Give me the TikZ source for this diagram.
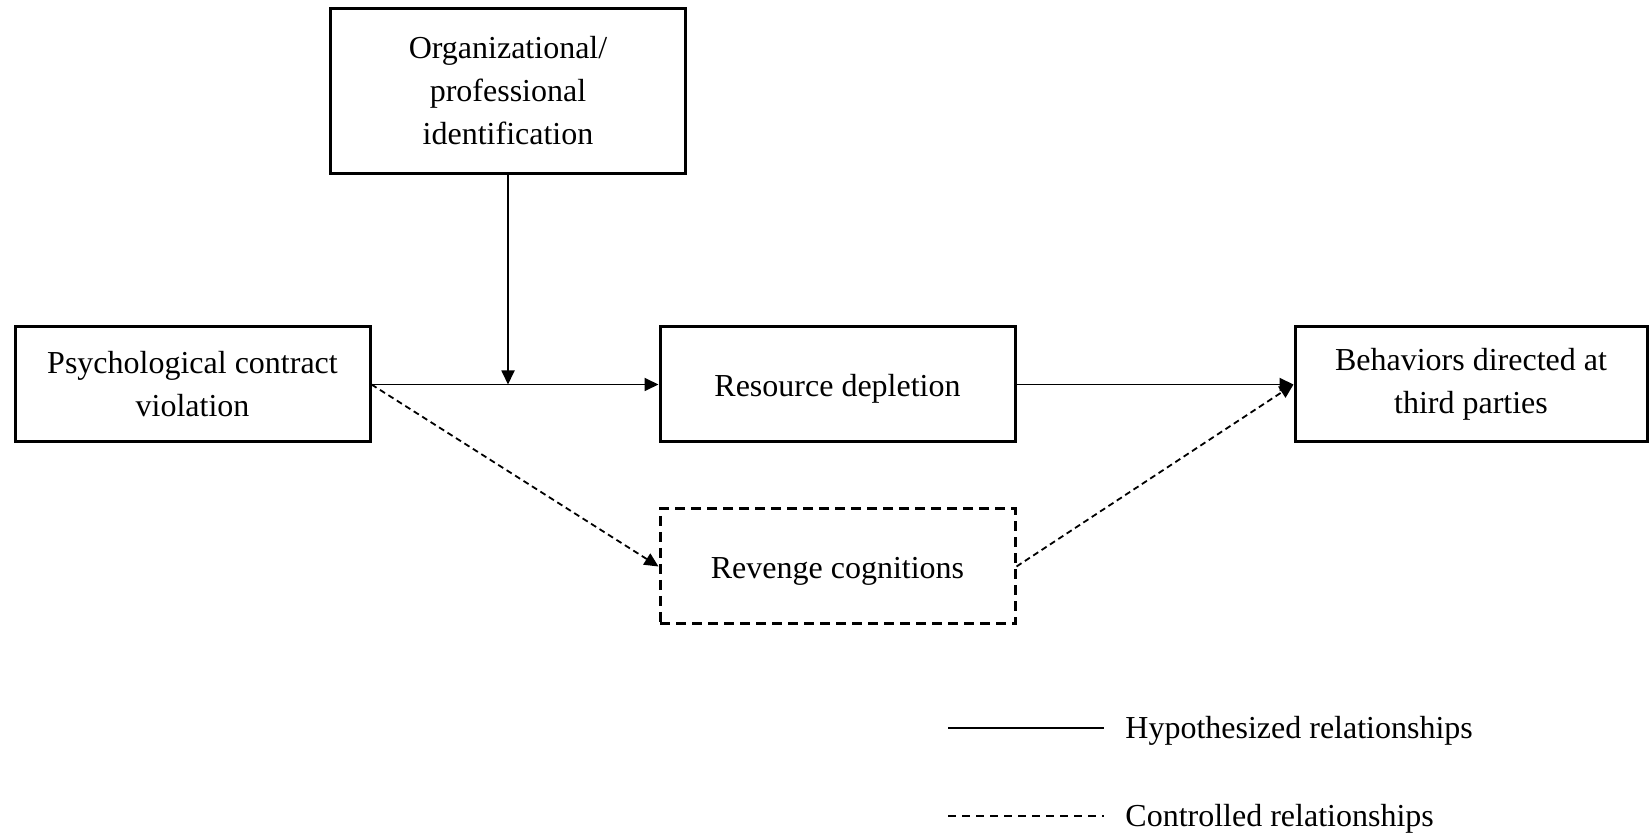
\documentclass[tikz,border=0pt]{standalone}
\usepackage{fontspec}
\setmainfont{Liberation Serif}
\usetikzlibrary{arrows.meta}
\tikzset{
  box/.style={draw, line width=1.5pt, rectangle, align=center, inner sep=2pt,
    font=\fontsize{16}{21.5}\selectfont},
  single/.style={text height=13pt, text depth=1pt},
  dbox/.style={box, dash pattern=on 5pt off 3pt},
  conn/.style={line width=0.9pt, -{Triangle[length=7pt,width=6.5pt]}},
  dconn/.style={conn, dash pattern=on 3pt off 2pt},
  legtext/.style={anchor=west, inner sep=0pt, font=\fontsize{16}{21.5}\selectfont},
}
\begin{document}
\begin{tikzpicture}[x=0.5pt,y=-0.5pt]
\useasboundingbox (0,0) rectangle (1649,833);
\node[box, minimum width=177.5pt, minimum height=82.5pt] (org) at (508,91)
  {Organizational/\\professional\\identification};
\node[box, minimum width=177.5pt, minimum height=57.5pt] (pcv) at (192.5,384.5)
  {Psychological contract\\violation};
\node[box, single, minimum width=177.5pt, minimum height=57.5pt] (rd) at (837.5,384.5)
  {Resource depletion};
\node[box, minimum width=176pt, minimum height=57.5pt] (beh) at (1471,384.5)
  {Behaviors directed at\\third parties};
\node[dbox, single, minimum width=177.5pt, minimum height=57.5pt] (rev) at (837.5,566.5)
  {Revenge cognitions};
\coordinate (m) at (508,384.5);
\draw[conn] (pcv.east) -- (rd.west);
\draw[conn] (org.south) -- (m);
\draw[conn] (rd.east) -- (beh.west);
\draw[dconn] (pcv.east) -- (rev.west);
\draw[dconn] (rev.east) -- (beh.west);
% legend
\coordinate (h1) at (948,728);
\coordinate (h2) at (1104,728);
\coordinate (c1) at (948,816);
\coordinate (c2) at (1104,816);
\draw[line width=0.8pt] (h1) -- (h2);
\draw[line width=0.8pt, dash pattern=on 4pt off 3pt] (c1) -- (c2);
\node[legtext] (ht) at (1125,731) {Hypothesized relationships};
\node[legtext] (ct) at (1125,819) {Controlled relationships};
\end{tikzpicture}
\end{document}
